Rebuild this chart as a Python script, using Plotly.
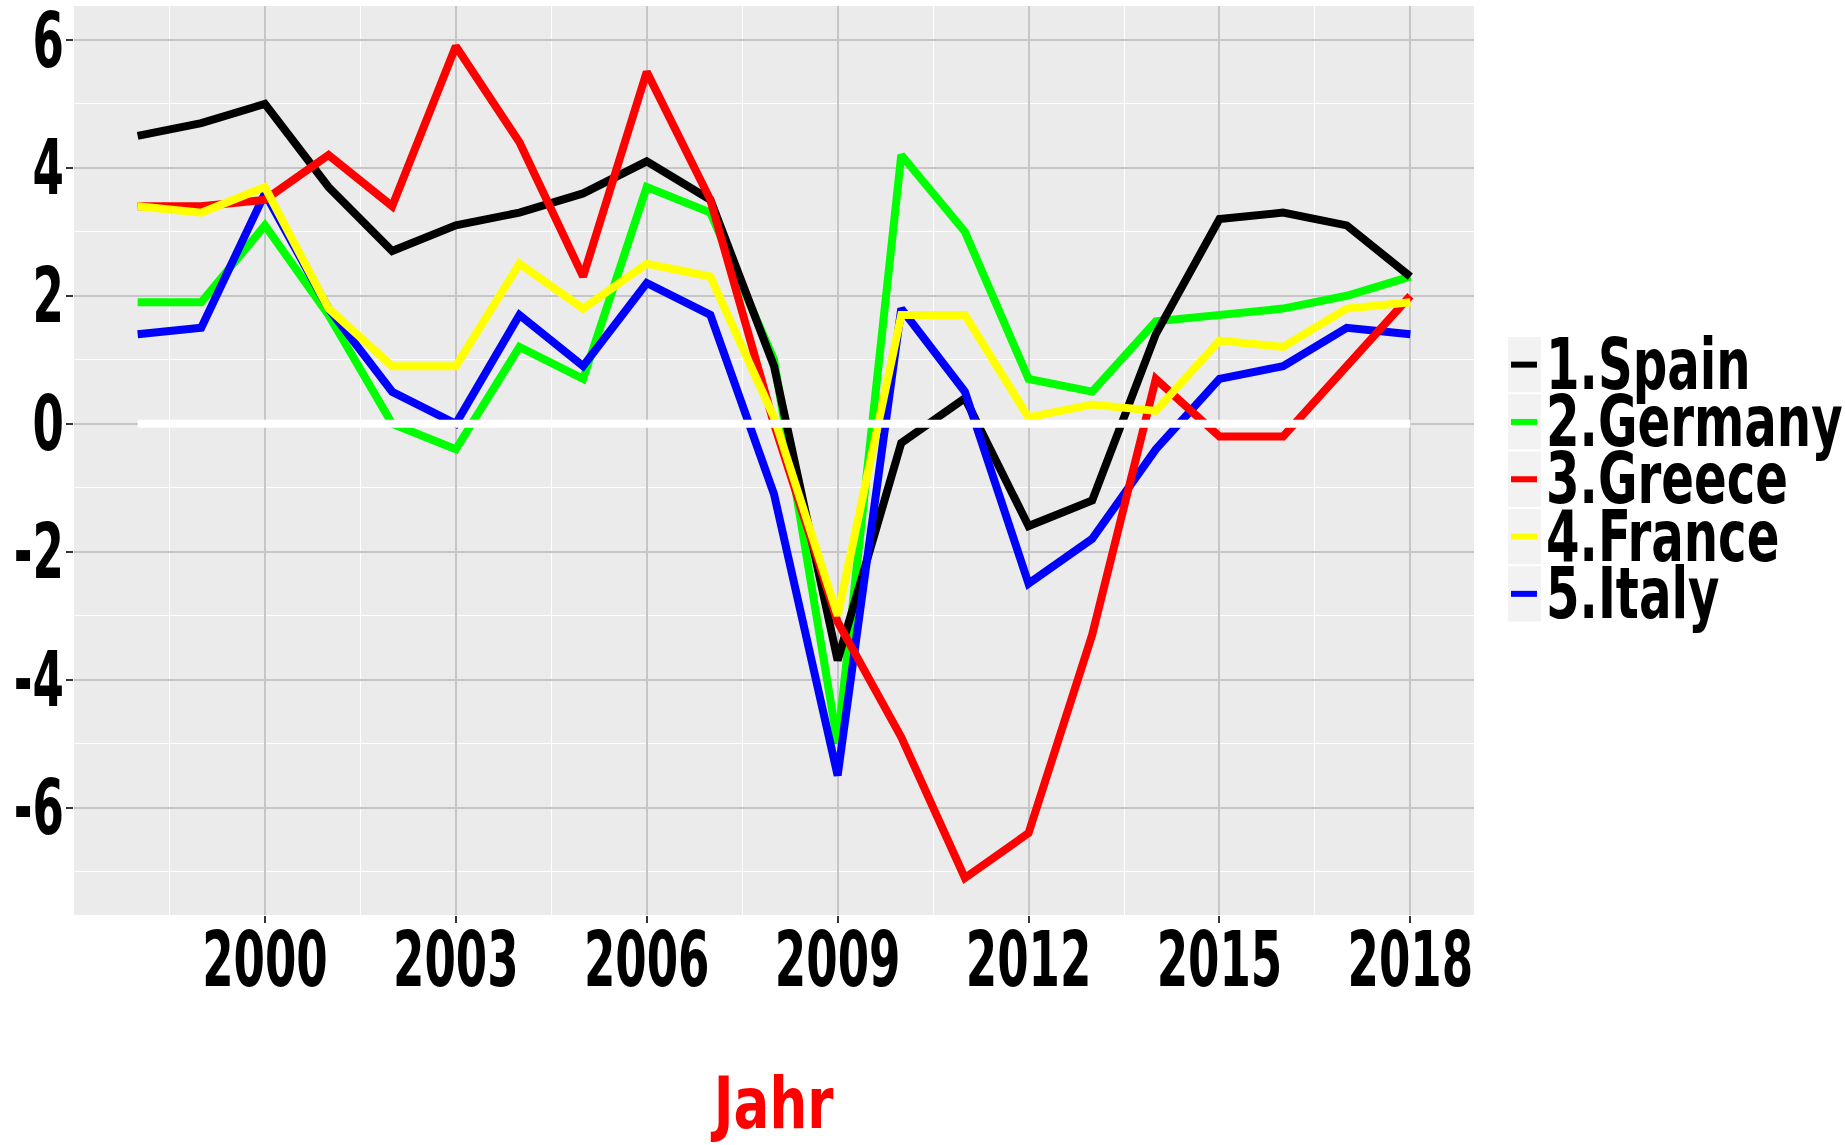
import plotly.graph_objects as go

years = list(range(1998, 2019))
spain   = [4.5, 4.7, 5.0, 3.7, 2.7, 3.1, 3.3, 3.6, 4.1, 3.5, 0.9, -3.7, -0.3, 0.4, -1.6, -1.2, 1.4, 3.2, 3.3, 3.1, 2.3]
germany = [1.9, 1.9, 3.1, 1.7, 0.0, -0.4, 1.2, 0.7, 3.7, 3.3, 1.0, -5.0, 4.2, 3.0, 0.7, 0.5, 1.6, 1.7, 1.8, 2.0, 2.3]
greece  = [3.4, 3.4, 3.5, 4.2, 3.4, 5.9, 4.4, 2.3, 5.5, 3.5, 0.0, -3.1, -4.9, -7.1, -6.4, -3.3, 0.7, -0.2, -0.2, 0.9, 2.0]
france  = [3.4, 3.3, 3.7, 1.8, 0.9, 0.9, 2.5, 1.8, 2.5, 2.3, 0.1, -3.0, 1.7, 1.7, 0.1, 0.3, 0.2, 1.3, 1.2, 1.8, 1.9]
italy   = [1.4, 1.5, 3.6, 1.8, 0.5, 0.0, 1.7, 0.9, 2.2, 1.7, -1.1, -5.5, 1.8, 0.5, -2.5, -1.8, -0.4, 0.7, 0.9, 1.5, 1.4]
zero    = [0.0] * len(years)

legend_names = ["1.Spain", "2.Germany", "3.Greece", "4.France", "5.Italy"]
legend_colors = ["#000000", "#00FF00", "#FF0000", "#FFFF00", "#0000FF"]
x_ticks = [2000, 2003, 2006, 2009, 2012, 2015, 2018]
y_ticks = [-6, -4, -2, 0, 2, 4, 6]
x_title = "Jahr"

FONT = "DejaVu Sans Condensed, Liberation Sans Narrow, sans-serif"
W, H = 1845, 1145
L, R, T, B = 74, 371, 6, 230
pw, ph = W - L - R, H - T - B

series_draw = [
    (germany, "#00FF00"),
    (spain, "#000000"),
    (italy, "#0000FF"),
    (greece, "#FF0000"),
    (france, "#FFFF00"),
    (zero, "#FFFFFF"),
]

fig = go.Figure()
for vals, col in series_draw:
    fig.add_trace(go.Scatter(x=years, y=vals, mode="lines",
                             line=dict(color=col, width=8),
                             showlegend=False, hoverinfo="skip"))

def px2x(px):
    return (px - L) / pw

def py2y(py):
    return (H - B - py) / ph

shapes = []
annotations = []
item_h = 57.3
top0 = 337
for i, (name, col) in enumerate(zip(legend_names, legend_colors)):
    y_top = top0 + i * item_h
    y_bot = y_top + item_h - 2
    yc = (y_top + y_bot) / 2
    shapes.append(dict(type="rect", xref="paper", yref="paper",
                       x0=px2x(1508), x1=px2x(1541), y0=py2y(y_bot), y1=py2y(y_top),
                       fillcolor="#F2F2F2", line=dict(width=0), layer="below"))
    shapes.append(dict(type="line", xref="paper", yref="paper",
                       x0=px2x(1511), x1=px2x(1537), y0=py2y(yc), y1=py2y(yc),
                       line=dict(color=col, width=6)))
    annotations.append(dict(text=name, xref="paper", yref="paper",
                            x=px2x(1544), y=py2y(yc - 1), xanchor="left", yanchor="middle",
                            align="left", showarrow=False,
                            font=dict(family=FONT, size=72, color="black", weight="bold")))

fig.update_layout(
    width=W, height=H,
    margin=dict(l=L, r=R, t=T, b=B, pad=0, autoexpand=False),
    paper_bgcolor="white", plot_bgcolor="#EBEBEB",
    shapes=shapes, annotations=annotations,
    showlegend=False,
    font=dict(family=FONT, color="black"),
)
tickfont = dict(family=FONT, size=76, color="black", weight="bold")
fig.update_xaxes(
    range=[1997, 2019], tickmode="array", tickvals=x_ticks,
    ticktext=[str(v) for v in x_ticks], tickangle=0,
    tickfont=tickfont, automargin=False, ticklabeloverflow="allow",
    ticklabelstandoff=-28,
    ticks="outside", ticklen=7, tickwidth=1.5, tickcolor="#333333",
    showgrid=True, gridcolor="#C6C6C6", gridwidth=2,
    minor=dict(tickmode="array", tickvals=[1998.5, 2001.5, 2004.5, 2007.5, 2010.5, 2013.5, 2016.5],
               showgrid=True, gridcolor="white", gridwidth=1.3, ticks=""),
    zeroline=False, showline=False,
    title=dict(text=x_title, font=dict(family=FONT, size=72, color="#FF0000", weight="bold"), standoff=119),
)
fig.update_yaxes(
    range=[-7.68, 6.53], tickmode="array", tickvals=y_ticks,
    ticktext=[str(v) for v in y_ticks], tickangle=0,
    tickfont=tickfont, automargin=False, ticklabeloverflow="allow",
    ticklabelstandoff=-13,
    ticks="outside", ticklen=7, tickwidth=1.5, tickcolor="#333333",
    showgrid=True, gridcolor="#C6C6C6", gridwidth=2,
    minor=dict(tickmode="array", tickvals=[-7, -5, -3, -1, 1, 3, 5],
               showgrid=True, gridcolor="white", gridwidth=1.3, ticks=""),
    zeroline=False, showline=False,
)

# page without body margin; narrow the bold labels horizontally
# (the reference uses a very condensed face)
post = """
(function(){
  document.body.style.margin = '0';
  document.body.style.padding = '0';
  var gd = document.getElementById('{plot_id}');
  function squeeze(sel, f, forceStart){
    gd.querySelectorAll(sel).forEach(function(t){
      var tr = t.getAttribute('transform') || '';
      if (tr.indexOf('scale(') >= 0) return;
      var bb = t.getBBox();
      var anc = t.getAttribute('text-anchor') || 'start';
      var ax = bb.x;
      if (!forceStart) {
        if (anc === 'middle') ax = bb.x + bb.width / 2;
        else if (anc === 'end') ax = bb.x + bb.width;
      }
      t.setAttribute('transform', tr + ' translate(' + ax + ',0) scale(' + f + ',1) translate(' + (-ax) + ',0)');
    });
  }
  function run(){
    squeeze('.xtick text', 0.66, false);
    squeeze('.ytick text', 0.66, false);
    squeeze('.annotation-text', 0.745, true);
    squeeze('.g-xtitle text', 0.82, false);
  }
  run();
  if (gd.on) gd.on('plotly_afterplot', run);
})();
"""

fig.write_html("out.html", post_script=post, config={"displayModeBar": False})
